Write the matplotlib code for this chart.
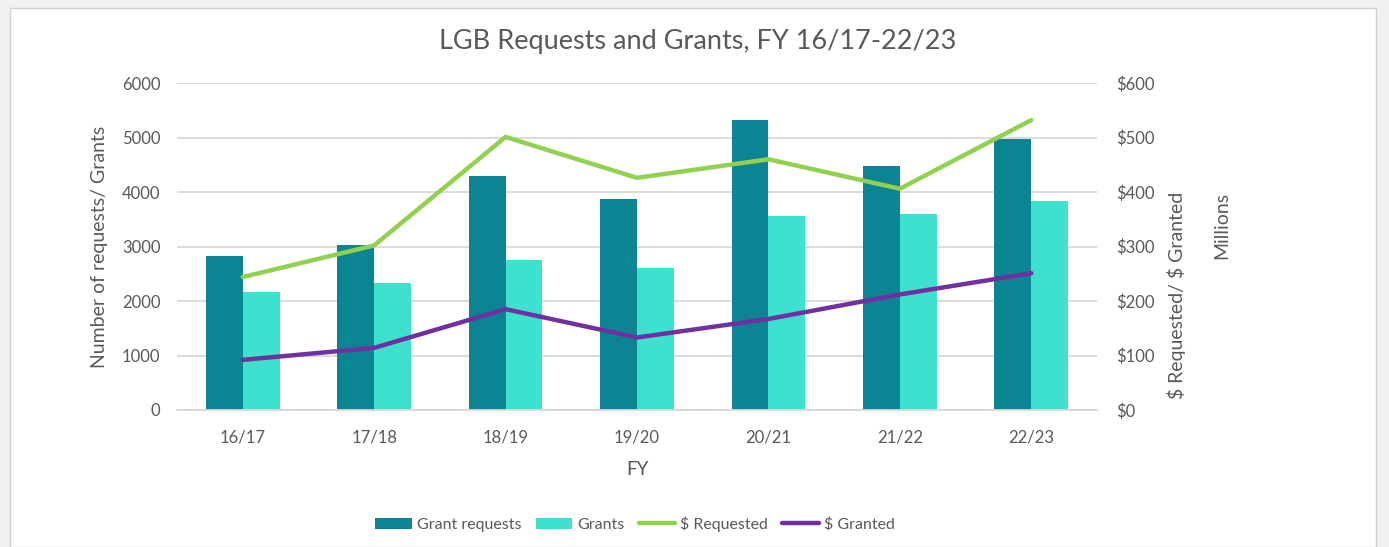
import numpy as np
import matplotlib
matplotlib.use("Agg")
import matplotlib.pyplot as plt
from matplotlib.patches import Rectangle
from matplotlib.ticker import FuncFormatter

# -------------------
# Data
# -------------------
fiscal_years = ["16/17", "17/18", "18/19", "19/20", "20/21", "21/22", "22/23"]
grant_requests = [2830, 3020, 4300, 3870, 5320, 4470, 4970]
grants = [2170, 2330, 2750, 2600, 3565, 3600, 3835]
dollars_requested = [244, 302, 501, 426, 460, 406, 532]   # $ millions
dollars_granted = [92, 114, 185, 133, 167, 212, 251]      # $ millions

# -------------------
# Style
# -------------------
plt.rcParams["font.family"] = ["Lato", "DejaVu Sans"]
plt.rcParams["text.parse_math"] = False
TEAL = "#0C8493"
TURQ = "#3EE1CE"
GREEN = "#92D050"
PURPLE = "#7030A0"
GRID = "#D9D9D9"
TXT = "#595959"

W, H = 1389, 547
fig = plt.figure(figsize=(W / 100, H / 100), dpi=100, facecolor="#F0F1F3")
fig.patches.append(Rectangle((10 / W, 0), (1376 - 10) / W, (H - 8) / H,
                             transform=fig.transFigure, facecolor="white",
                             edgecolor="#D0D0D0", lw=1, zorder=-5))

ax = fig.add_axes([177 / W, (H - 410) / H, (1097 - 177) / W, (410 - 83) / H])
ax.set_facecolor("none")
ax2 = ax.twinx()

x = np.arange(len(fiscal_years))
bw = 0.28
ax.bar(x - bw / 2, grant_requests, bw, color=TEAL, label="Grant requests", zorder=2)
ax.bar(x + bw / 2, grants, bw, color=TURQ, label="Grants", zorder=2)

ax2.plot(x, dollars_requested, color=GREEN, lw=3.2, solid_capstyle="round",
         label="$ Requested")
ax2.plot(x, dollars_granted, color=PURPLE, lw=3.2, solid_capstyle="round",
         label="$ Granted")

ax.set_xlim(-0.5, len(fiscal_years) - 0.5)
ax.set_ylim(0, 6000)
ax2.set_ylim(0, 600)
ax.set_yticks(range(0, 6001, 1000))
ax2.set_yticks(range(0, 601, 100))
ax2.yaxis.set_major_formatter(FuncFormatter(lambda v, p: f"${v:.0f}"))
ax.set_xticks(x)
ax.set_xticklabels(fiscal_years)

ax.grid(axis="y", color=GRID, lw=1.3, zorder=0)
for a in (ax, ax2):
    for s in a.spines.values():
        s.set_visible(False)
    a.tick_params(length=0, colors=TXT, labelsize=12)
ax.spines["bottom"].set_visible(True)
ax.spines["bottom"].set_color(GRID)
ax.spines["bottom"].set_linewidth(1.3)
ax.tick_params(axis="y", pad=12)
ax.tick_params(axis="x", pad=14)
ax2.tick_params(axis="y", pad=14)

ax.set_xlabel("FY", fontsize=13.5, color=TXT, labelpad=11)
ax.set_ylabel("Number of requests/ Grants", fontsize=14, color=TXT, labelpad=10)
fig.text(1177 / W, 1 - 192 / H, "$ Requested/ $ Granted", rotation=90,
         ha="center", va="top", fontsize=14, color=TXT)
fig.text(1222 / W, 1 - 192 / H, "Millions", rotation=90,
         ha="center", va="top", fontsize=14, color=TXT)

fig.text(698 / W, 1 - 42 / H, "LGB Requests and Grants, FY 16/17-22/23",
         ha="center", va="center", fontsize=19.5, color=TXT)

h1, l1 = ax.get_legend_handles_labels()
h2, l2 = ax2.get_legend_handles_labels()
fig.legend(h1 + h2, l1 + l2, loc="center", bbox_to_anchor=(635 / W, 1 - 524 / H),
           ncol=4, frameon=False, fontsize=11.5, labelcolor=TXT,
           handlelength=2.3, handletextpad=0.3, columnspacing=0.9)

fig.savefig("out.png", dpi=100, facecolor=fig.get_facecolor())
